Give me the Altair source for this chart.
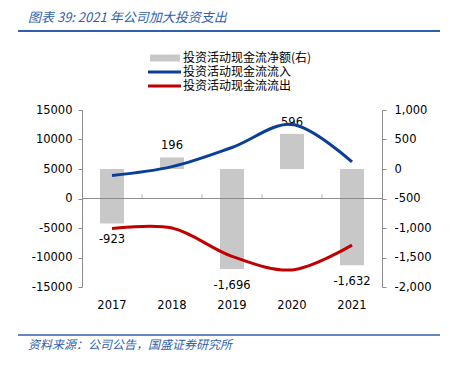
import altair as alt
import pandas as pd

years = ["2017", "2018", "2019", "2020", "2021"]
net = [-923, 196, -1696, 596, -1632]
inflow = [3900, 5400, 8650, 12550, 6200]
outflow = [-5100, -5000, -9800, -12100, -7900]
left_ticks = [-15000, -10000, -5000, 0, 5000, 10000, 15000]
right_ticks = [-2000, -1500, -1000, -500, 0, 500, 1000]
legend_labels = ["投资活动现金流净额(右)", "投资活动现金流流入", "投资活动现金流流出"]
title_text = "图表 39:  2021 年公司加大投资支出"
source_text = "资料来源：公司公告，国盛证券研究所"

NUMF = "DejaVu Sans"
CJKF = "Noto Sans CJK SC"
BLUE = "#0b3f97"
RED = "#c00000"
GRAY = "#c8c8c8"
AX = "#8c8c8c"
TBLUE = "#2f5fae"
FIXMINUS = "replace(datum.label, '\u2212', '-')"

df = pd.DataFrame({"year": years, "net": net, "inflow": inflow, "outflow": outflow})
zero = pd.DataFrame({"v": [0]})
bounds = pd.DataFrame({"year": years[1:], "v": [0] * (len(years) - 1)})

ls = alt.Scale(domain=[-15000, 15000], nice=False, zero=False)
rs = alt.Scale(domain=[-2000, 1000], nice=False, zero=False)

xenc = alt.X(
    "year:O",
    scale=alt.Scale(paddingInner=0, paddingOuter=0),
    axis=alt.Axis(title=None, labelAngle=0, domain=False, ticks=False,
                  labelPadding=12, labelFontSize=11.5, labelColor="#000",
                  labelFont=NUMF),
)

left_axis = alt.Axis(values=left_ticks, title=None, grid=False, domainColor=AX,
                     tickColor=AX, tickSize=4, labelPadding=6, labelFontSize=11.5,
                     labelColor="#000", labelFont=NUMF, format="d", labelExpr=FIXMINUS)
right_axis = alt.Axis(orient="right", values=right_ticks, title=None, grid=False,
                      domainColor=AX, tickColor=AX, tickSize=4, labelPadding=8,
                      labelFontSize=11.5, labelColor="#000", labelFont=NUMF,
                      format=",d", labelExpr=FIXMINUS)

base = alt.Chart(df).transform_calculate(
    lab="replace(format(datum.net, ',d'), '\u2212', '-')"
)

bars = base.mark_bar(color=GRAY, size=24).encode(
    x=xenc, y=alt.Y("net:Q", scale=rs, axis=right_axis), y2=alt.datum(0)
)
pos_lab = base.transform_filter("datum.net > 0").mark_text(
    baseline="bottom", dy=-6, fontSize=11.5, font=NUMF, color="#000"
).encode(x=xenc, y=alt.Y("net:Q", scale=rs, axis=None), text="lab:N")
neg_lab = base.transform_filter("datum.net < 0").mark_text(
    baseline="top", dy=11, fontSize=11.5, font=NUMF, color="#000"
).encode(x=xenc, y=alt.Y("net:Q", scale=rs, axis=None), text="lab:N")

zero_rule = alt.Chart(zero).mark_rule(color=AX).encode(y=alt.Y("v:Q", scale=ls, axis=None))
btick = alt.Chart(bounds).mark_tick(orient="vertical", size=4, thickness=1, color=AX, yOffset=-2).encode(
    x=alt.X("year:O", bandPosition=0), y=alt.Y("v:Q", scale=ls, axis=None)
)

l_in = base.mark_line(color=BLUE, strokeWidth=3, interpolate="catmull-rom").encode(
    x=xenc, y=alt.Y("inflow:Q", scale=ls, axis=left_axis)
)
l_out = base.mark_line(color=RED, strokeWidth=3, interpolate="catmull-rom").encode(
    x=xenc, y=alt.Y("outflow:Q", scale=ls, axis=None)
)

one = pd.DataFrame({"a": [0]})
deco = []
# legend
deco.append(alt.Chart(one).mark_rect(color=GRAY).encode(
    x=alt.value(68), x2=alt.value(98), y=alt.value(-55.5), y2=alt.value(-48.5)))
deco.append(alt.Chart(one).mark_rule(color=BLUE, strokeWidth=3).encode(
    x=alt.value(66), x2=alt.value(99), y=alt.value(-38)))
deco.append(alt.Chart(one).mark_rule(color=RED, strokeWidth=3).encode(
    x=alt.value(66), x2=alt.value(99), y=alt.value(-24)))
for lab, yy in zip(legend_labels, [-52, -38, -24]):
    deco.append(alt.Chart(pd.DataFrame({"t": [lab]})).mark_text(
        align="left", baseline="middle", fontSize=12, font=CJKF, color="#000"
    ).encode(x=alt.value(101), y=alt.value(yy), text="t:N"))
# title and source
deco.append(alt.Chart(pd.DataFrame({"t": [title_text]})).mark_text(
    align="left", baseline="middle", fontSize=13, font=CJKF, fontStyle="italic", color=TBLUE
).encode(x=alt.value(-54), y=alt.value(-92), text="t:N"))
deco.append(alt.Chart(one).mark_rule(color=TBLUE, strokeWidth=2).encode(
    x=alt.value(-64), x2=alt.value(358), y=alt.value(-79)))
deco.append(alt.Chart(one).mark_rule(color=TBLUE, strokeWidth=1.3).encode(
    x=alt.value(-64), x2=alt.value(358), y=alt.value(225)))
deco.append(alt.Chart(pd.DataFrame({"t": [source_text]})).mark_text(
    align="left", baseline="middle", fontSize=12, font=CJKF, fontStyle="italic", color=TBLUE
).encode(x=alt.value(-54), y=alt.value(235), text="t:N"))

chart = alt.layer(
    bars, pos_lab, neg_lab, zero_rule, btick, l_in, l_out, *deco
).resolve_scale(y="independent").properties(
    width=300, height=177, autosize="none",
    padding={"left": 74, "top": 102, "right": 62, "bottom": 66},
).configure_view(stroke=None)

chart.save("out.html", embed_options={"renderer": "svg", "actions": False})
